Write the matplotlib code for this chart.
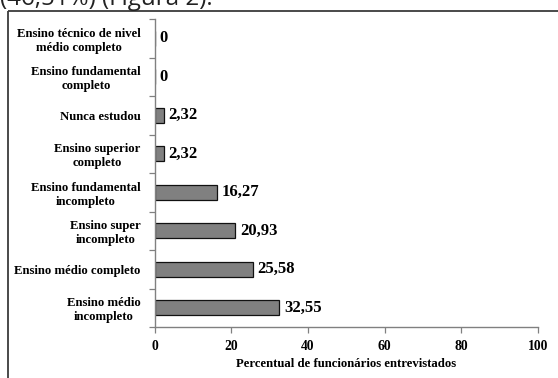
import matplotlib
matplotlib.use("Agg")
import matplotlib.pyplot as plt
from matplotlib.lines import Line2D
import numpy as np

# Escolaridade dos funcionários entrevistados (%)
categorias = [
    "Ensino médio\nincompleto",
    "Ensino médio completo",
    "Ensino super\nincompleto",
    "Ensino fundamental\nincompleto",
    "Ensino superior\ncompleto",
    "Nunca estudou",
    "Ensino fundamental\ncompleto",
    "Ensino técnico de nivel\nmédio completo",
]
percentuais = [32.55, 25.58, 20.93, 16.27, 2.32, 2.32, 0, 0]
rotulos_valor = ["32,55", "25,58", "20,93", "16,27", "2,32", "2,32", "0", "0"]
ticks_x = [0, 20, 40, 60, 80, 100]
titulo_x = "Percentual de funcionários entrevistados"
texto_anterior = "(46,51%) (Figura 2)."

W, H = 558, 378
fig = plt.figure(figsize=(W / 100, H / 100), dpi=100)

serif = ["Liberation Serif", "DejaVu Serif"]

# Linha de texto do documento acima do quadro
fig.text(0.0, (H - 5) / H, texto_anterior, family=["Open Sans", "DejaVu Sans"],
         fontsize=17.4, ha="left", va="baseline", color="#222222")

# Moldura do quadro do gráfico
frame_color = "#3c3c3c"
fig.add_artist(Line2D([8 / W, 8 / W], [0, (H - 10.5) / H], transform=fig.transFigure,
                      color=frame_color, lw=1.3, solid_capstyle="butt"))
fig.add_artist(Line2D([8 / W, 1.0], [(H - 10.5) / H, (H - 10.5) / H], transform=fig.transFigure,
                      color=frame_color, lw=1.3, solid_capstyle="butt"))

left, right = 154.7 / W, 538.0 / W
bottom, top = (H - 327) / H, (H - 19) / H
ax = fig.add_axes([left, bottom, right - left, top - bottom])

y = np.arange(len(categorias))
ax.barh(y, percentuais, height=0.4, color="#808080", edgecolor="#111111", linewidth=0.9)

for yi, v, txt in zip(y, percentuais, rotulos_valor):
    ax.annotate(txt, (v, yi), xytext=(3.5, 0), textcoords="offset points",
                ha="left", va="center", family=serif, fontweight="bold", fontsize=12)

ax.set_xlim(0, 100)
ax.set_ylim(-0.5, len(categorias) - 0.5)
ax.set_xticks(ticks_x)
ax.set_xticklabels([str(t) for t in ticks_x], family=serif, fontweight="bold", fontsize=9.8)

ax.set_yticks(y)
ax.set_yticklabels(categorias, family=serif, fontweight="bold", fontsize=9.2,
                   multialignment="center", linespacing=1.2)
ax.set_yticks(np.arange(-0.5, len(categorias), 1.0), minor=True)
ax.tick_params(axis="y", which="major", length=0, pad=10)
ax.tick_params(axis="y", which="minor", length=4, width=0.9, color="#808080", direction="out")
ax.tick_params(axis="x", which="major", length=4, width=0.9, color="#808080", direction="out", pad=5)

for side in ["top", "right"]:
    ax.spines[side].set_visible(False)
for side in ["left", "bottom"]:
    ax.spines[side].set_color("#808080")
    ax.spines[side].set_linewidth(1.0)

ax.set_xlabel(titulo_x, family=serif, fontweight="bold", fontsize=9.2, labelpad=4)

fig.savefig("out.png", dpi=100)
